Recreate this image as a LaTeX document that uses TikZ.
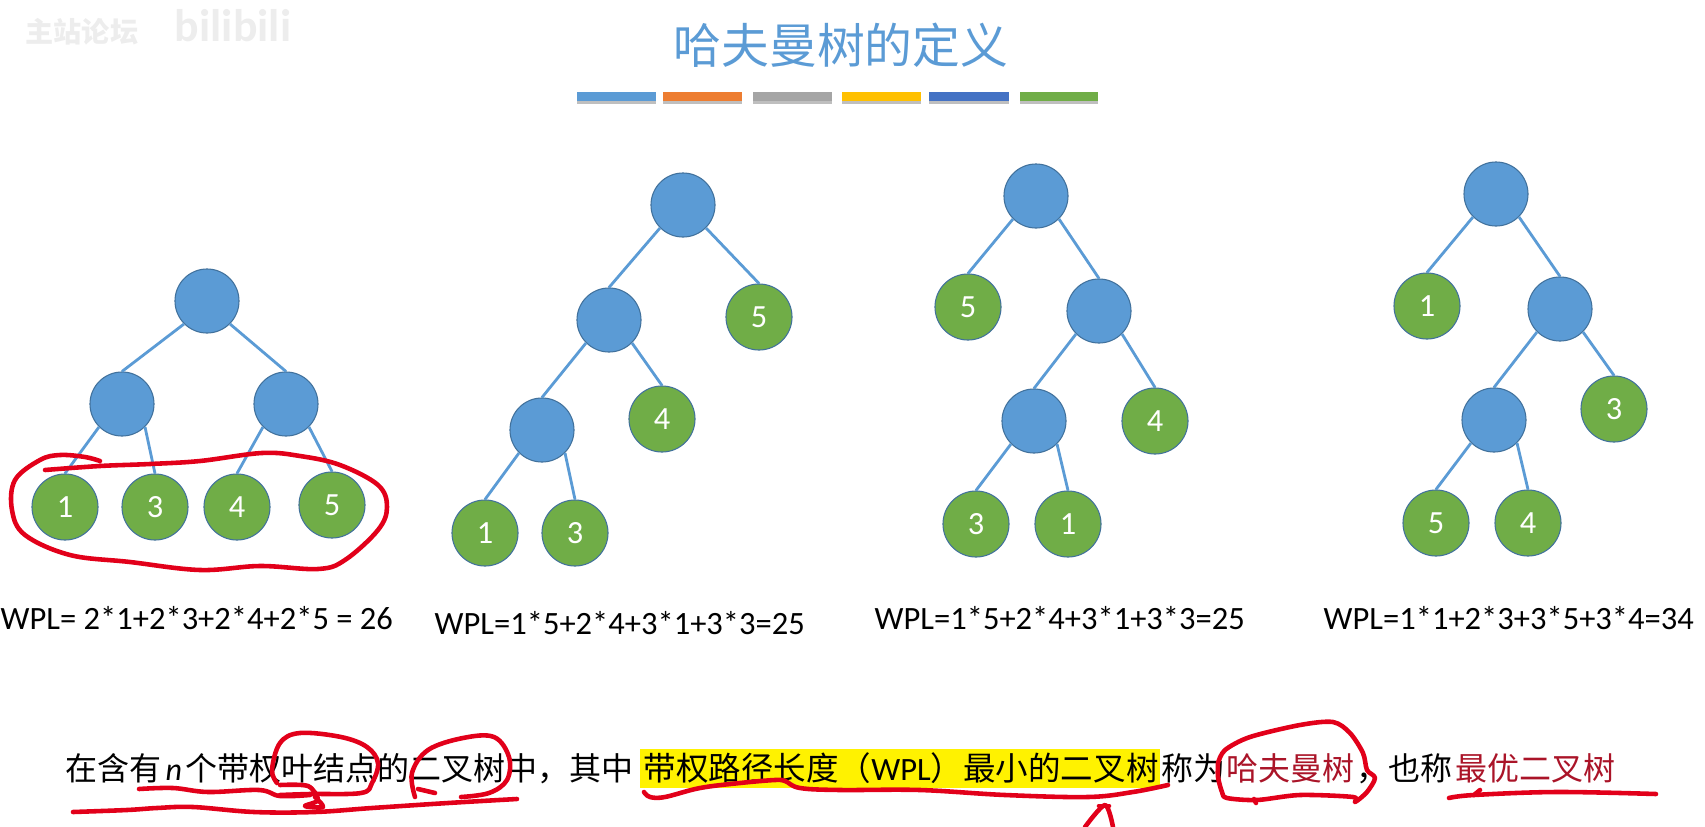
\documentclass[tikz,border=0pt]{standalone}
\usepackage{fontspec}
\setmainfont{Carlito}
\newfontfamily\cjk{Noto Sans CJK SC}
\usetikzlibrary{positioning}
\definecolor{B1}{RGB}{91,155,213}
\definecolor{B2}{RGB}{65,113,156}
\definecolor{G1}{RGB}{112,173,71}
\definecolor{O1}{RGB}{237,125,49}
\definecolor{A1}{RGB}{165,165,165}
\definecolor{Y1}{RGB}{255,192,0}
\definecolor{D1}{RGB}{68,114,196}
\definecolor{R1}{RGB}{226,0,26}
\definecolor{R2}{RGB}{170,20,40}
\tikzstyle{inner}=[shape=circle, minimum size=6.4mm, inner sep=0, fill=B1, draw=B2, line width=.3pt]
\tikzstyle{leaf}=[shape=circle, minimum size=6.6mm, inner sep=0, fill=G1, draw=B2, line width=.3pt, text=white, font=\fontsize{9.2}{9.2}\selectfont]
\tikzstyle{link}=[B1, line width=.8pt]
\tikzstyle{wpl}=[inner sep=0, font=\fontsize{9.25}{9.25}\selectfont]
\tikzstyle{pen}=[R1, line width=1.3pt, line cap=round, line join=round]
\tikzstyle{body}=[inner sep=0, font=\fontsize{9.1}{9.1}\selectfont\cjk]
\begin{document}
\begin{tikzpicture}[x=.01cm,y=-.01cm]
    \useasboundingbox (0,0) rectangle (1705,827);
    % title and colour bars
    \node[inner sep=0, B1, font=\fontsize{13.6}{13.6}\selectfont\cjk] (title) at (841,45) {哈夫曼树的定义};
    \foreach \xa/\xb/\col in {577/656/B1,663/742/O1,753/832/A1,842/921/Y1,929/1009/D1,1020/1098/G1}{
      \fill[black!25] (\xa,100) rectangle (\xb,104);
      \fill[\col] (\xa,92) rectangle (\xb,101);
    }
    % faint watermark
    \node[inner sep=0, black!7, font=\fontsize{8}{8}\selectfont\bfseries\cjk] (markcn) at (82,32) {主站论坛};
    \node[inner sep=0, black!7, font=\fontsize{13}{13}\selectfont\bfseries] (markbl) at (233,26) {bilibili};
    % first tree
    \node[inner] (r1) at (207,301) {};
    \node[inner] (a1) at (122,404) {}; \node[inner] (b1) at (286,404) {};
    \node[leaf] (l11) at (65,507) {1}; \node[leaf] (l13) at (155,507) {3};
    \node[leaf] (l14) at (237,507) {4}; \node[leaf] (l15) at (332,505) {5};
    \draw[link] (r1.south west)--(a1.north); \draw[link] (r1.south east)--(b1.north);
    \draw[link] (a1.south west)--(l11.north); \draw[link] (a1.south east)--(l13.north);
    \draw[link] (b1.south west)--(l14.north); \draw[link] (b1.south east)--(l15.north);
    \node[wpl, anchor=west] (w1) at (0,618) {WPL= 2*1+2*3+2*4+2*5 = 26};
    % second tree
    \node[inner] (r2) at (683,205) {};
    \node[inner] (a2) at (609,320) {}; \node[leaf] (l25) at (759,317) {5};
    \node[inner] (b2) at (542,430) {}; \node[leaf] (l24) at (662,419) {4};
    \node[leaf] (l21) at (485,533) {1}; \node[leaf] (l23) at (575,533) {3};
    \draw[link] (r2.south west)--(a2.north); \draw[link] (r2.south east)--(l25.north);
    \draw[link] (a2.south west)--(b2.north); \draw[link] (a2.south east)--(l24.north);
    \draw[link] (b2.south west)--(l21.north); \draw[link] (b2.south east)--(l23.north);
    \node[wpl, anchor=west] (w2) at (434,623) {WPL=1*5+2*4+3*1+3*3=25};
    % third tree
    \node[inner] (r3) at (1036,196) {};
    \node[leaf] (l35) at (968,307) {5}; \node[inner] (a3) at (1099,311) {};
    \node[inner] (b3) at (1034,421) {}; \node[leaf] (l34) at (1155,421) {4};
    \node[leaf] (l33) at (976,524) {3}; \node[leaf] (l31) at (1068,524) {1};
    \draw[link] (r3.south west)--(l35.north); \draw[link] (r3.south east)--(a3.north);
    \draw[link] (a3.south west)--(b3.north); \draw[link] (a3.south east)--(l34.north);
    \draw[link] (b3.south west)--(l33.north); \draw[link] (b3.south east)--(l31.north);
    \node[wpl, anchor=west] (w3) at (874,618) {WPL=1*5+2*4+3*1+3*3=25};
    % fourth tree
    \node[inner] (r4) at (1496,194) {};
    \node[leaf] (l41) at (1427,306) {1}; \node[inner] (a4) at (1560,309) {};
    \node[inner] (b4) at (1494,420) {}; \node[leaf] (l43) at (1614,409) {3};
    \node[leaf] (l45) at (1436,523) {5}; \node[leaf] (l44) at (1528,523) {4};
    \draw[link] (r4.south west)--(l41.north); \draw[link] (r4.south east)--(a4.north);
    \draw[link] (a4.south west)--(b4.north); \draw[link] (a4.south east)--(l43.north);
    \draw[link] (b4.south west)--(l45.north); \draw[link] (b4.south east)--(l44.north);
    \node[wpl, anchor=west] (w4) at (1323,618) {WPL=1*1+2*3+3*5+3*4=34};
    % sentence
    \node[body, anchor=base west] (s1) at (65,780) {在含有{\hspace{1.1pt}\fontspec{Carlito}\itshape n\hspace{1.1pt}}个带权叶结点的二叉树中，其中};
    \fill[yellow] (640,749) rectangle (1160,788);
    \node[body, anchor=base west, font=\fontsize{9.25}{9.25}\selectfont\cjk] (s2) at (643,780) {带权路径长度（{\fontspec{Carlito}WPL}）最小的二叉树};
    \node[body, anchor=base west] (s3) at (1161,780) {称为};
    \node[body, anchor=base west, R2] (s4) at (1226,780) {哈夫曼树};
    \node[body, base right=0pt of s4] (s5) {，也称};
    \node[body, anchor=base west, R2] (s6) at (1455,780) {最优二叉树};
    % red pen strokes
    \draw[pen] plot[smooth,tension=.6] coordinates {(45,470)(100,466)(150,464)(200,461)(262,453)(300,456)(340,465)(378,485)(387,507)(378,530)(345,560)(318,569)(260,566)(200,570)(130,562)(70,555)(25,535)(12,510)(15,480)(40,460)(60,455)(85,457)(100,461)};
    \draw[pen] plot[smooth,tension=.6] coordinates {(139,789)(173,788)(208,792)(259,790)(280,796)(310,795)};
    \draw[pen] plot[smooth,tension=.6] coordinates {(280,795)(310,794)(361,793)(372,783)(378,763)(367,747)(341,737)(300,733)(280,743)(272,770)(277,783)};
    \draw[pen] plot[smooth,tension=.5] coordinates {(280,785)(308,786)(318,800)(305,806)(323,807)(315,797)};
    \draw[pen] plot[smooth,tension=.6] coordinates {(73,812)(127,810)(157,808)(193,807)(254,812)(315,812)(372,808)(448,803)(517,799)};
    \draw[pen] plot[smooth,tension=.6] coordinates {(415,797)(412,773)(428,750)(463,738)(494,737)(509,757)(507,780)(489,793)(461,797)};
    \draw[pen] (418,789)--(435,793);
    \draw[pen] plot[smooth,tension=.6] coordinates {(644,792)(650,797)(665,797)(700,788)(740,783)(775,780)(785,781)(800,788)(840,790)(920,790)(1005,795)(1088,797)(1133,792)(1168,785)};
    \draw[pen] plot[smooth,tension=.5] coordinates {(1218,763)(1225,750)(1250,737)(1300,725)(1333,722)(1350,733)(1363,753)(1367,770)(1375,778)(1367,792)(1355,802)(1353,797)(1300,795)(1257,800)(1227,798)(1222,792)(1218,777)(1218,763)};
    \draw[pen] (1254,799)--(1256,803);
    \draw[pen] plot[smooth,tension=.6] coordinates {(1449,798)(1474,795)(1557,792)(1656,794)};
    \draw[pen] (1474,795)--(1480,790);
    \draw[pen] plot[smooth,tension=.5] coordinates {(1085,827)(1105,805)(1113,827)};
    \draw[pen] (1099,806)--(1109,806);
  \end{tikzpicture}
\end{document}
